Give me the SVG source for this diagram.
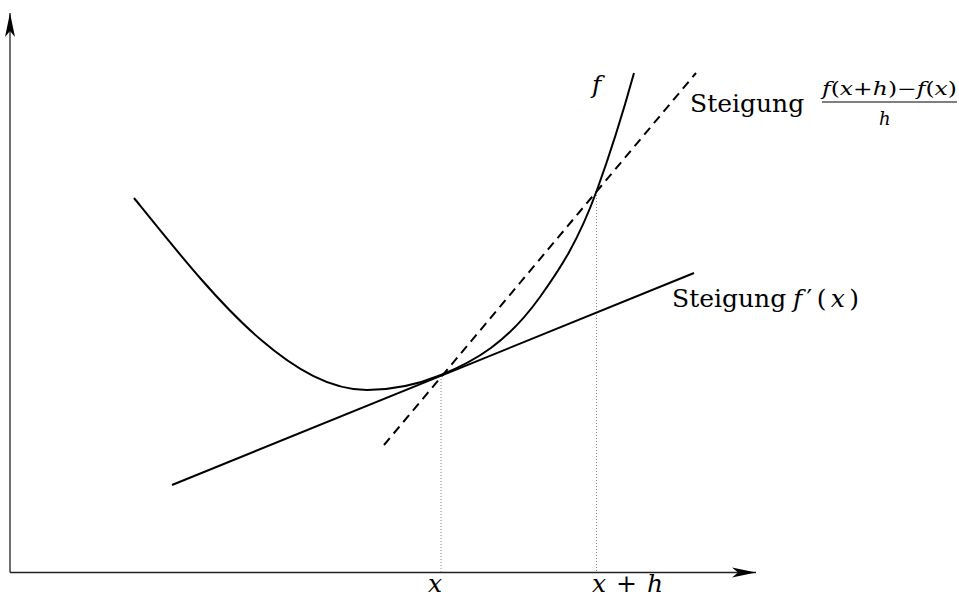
<svg xmlns="http://www.w3.org/2000/svg" width="959" height="599" viewBox="0 0 959 599">
  <style>
    .axis { stroke: #222; stroke-width: 1.3; fill: none; }
    .curve { stroke: #000; stroke-width: 2; fill: none; }
    .dashed { stroke: #000; stroke-width: 2; fill: none; stroke-dasharray: 9 6; }
    .dotted { stroke: #888; stroke-width: 1; fill: none; stroke-dasharray: 1 2; }
    text { font-family: "DejaVu Serif", "Liberation Serif", serif; fill: #000; }
    .lbl { font-size: 25px; }
    .small { font-size: 18px; }
    .it { font-style: italic; }
  </style>
  <defs>
    <marker id="arrow" markerUnits="userSpaceOnUse" markerWidth="30" markerHeight="14" viewBox="-25 -7 30 14" refX="0" refY="0" orient="auto" overflow="visible">
      <path d="M0,0 L-24,-5 L-18,0 L-24,5 Z" fill="#000"/>
    </marker>
  </defs>

  <g id="axes">
    <line class="axis" x1="10" y1="572.5" x2="10" y2="13" marker-end="url(#arrow)"/>
    <line class="axis" x1="10" y1="572.5" x2="756" y2="572.5" marker-end="url(#arrow)"/>
  </g>

  <g id="guides">
    <line class="dotted" x1="441" y1="376" x2="441" y2="572"/>
    <line class="dotted" x1="596.5" y1="192" x2="596.5" y2="572"/>
  </g>

  <g id="function-f">
    <path class="curve" d="M134,198 C176,250 218,303 260,339 C296,370 331,390 367,390 C392,390 416,385.2 441,375 C474,361.6 507,343.2 540,297 C559,270.4 578,242.3 597,190 C609.3,156.1 621.7,117.3 634,73"/>
  </g>

  <g id="tangent">
    <line class="curve" x1="172" y1="485" x2="694" y2="273"/>
  </g>

  <g id="secant">
    <line class="dashed" x1="384" y1="445" x2="696" y2="73"/>
  </g>

  <g id="labels">
    <text class="lbl it" x="592" y="93">f</text>
    <text class="lbl" x="690" y="112">Steigung</text>
    <text class="small" x="822" y="95" textLength="135" lengthAdjust="spacingAndGlyphs"><tspan class="it">f</tspan>(<tspan class="it">x</tspan>+<tspan class="it">h</tspan>)−<tspan class="it">f</tspan>(<tspan class="it">x</tspan>)</text>
    <line x1="822" y1="102" x2="957" y2="102" stroke="#000" stroke-width="1"/>
    <text class="small it" x="879" y="125">h</text>
    <text class="lbl" x="672" y="307">Steigung</text>
    <text class="lbl" x="793" y="307" textLength="66" lengthAdjust="spacing"><tspan class="it">f</tspan>′(<tspan class="it">x</tspan>)</text>
    <text class="lbl it" x="428" y="592">x</text>
    <text class="lbl" x="592" y="592" textLength="71" lengthAdjust="spacing"><tspan class="it">x</tspan> + <tspan class="it">h</tspan></text>
  </g>
</svg>
